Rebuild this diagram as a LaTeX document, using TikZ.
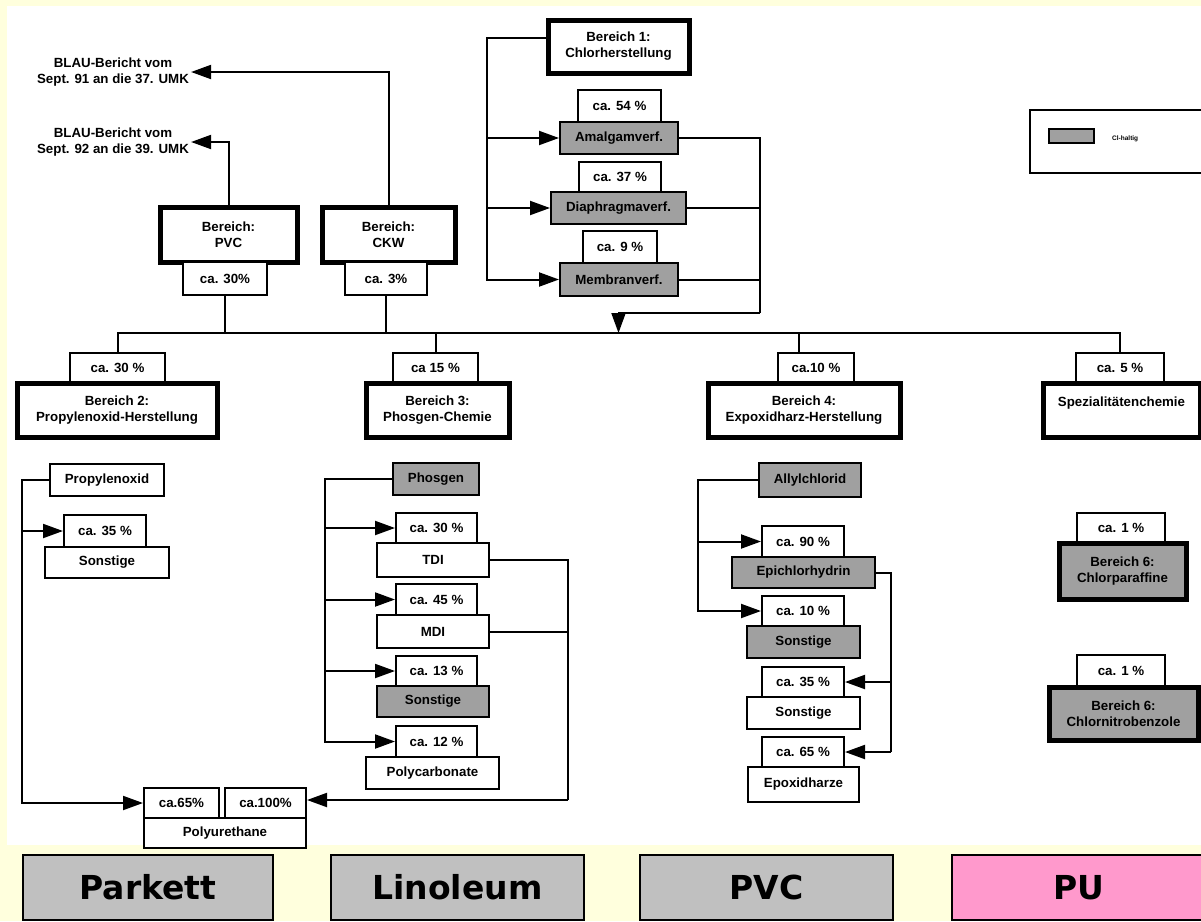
\documentclass[tikz,border=0pt]{standalone}
\usepackage{fontspec}
\setmainfont{Liberation Sans}
\newfontfamily\btnfont{DejaVu Sans}
\usetikzlibrary{arrows.meta,calc}

\definecolor{slideyellow}{RGB}{255,255,221}
\definecolor{clgrey}{RGB}{160,160,160}
\definecolor{btngrey}{RGB}{192,192,192}
\definecolor{btnpink}{RGB}{255,153,204}

\tikzset{
	conn/.style={line width=2pt},
	arr/.style={line width=2pt, -{Triangle[length=20pt,width=14pt]}},
	pbox/.style={draw, line width=2pt, fill=white, inner sep=1pt, font=\bfseries\fontsize{13.3}{16}\selectfont, align=center},
	bbox/.style={pbox, line width=5pt},
	clbox/.style={pbox, fill=clgrey},
	clbbox/.style={bbox, fill=clgrey},
	btn/.style={draw, line width=2pt, fill=btngrey, inner sep=0pt, font=\btnfont\bfseries\fontsize{33}{36}\selectfont},
	blau/.style={inner sep=2pt, align=center, font=\bfseries\fontsize{13.3}{15.5}\selectfont}
}
\def\cbox[#1](#2)(#3,#4)(#5,#6)#7{\node[#1, minimum width={#5-#3}, minimum height={#6-#4}] (#2) at ({(#3+#5)/2},{(#4+#6)/2}) {#7};}

\begin{document}
\begin{tikzpicture}[x=1pt,y=-1pt]
			%%%%% START %%%%%
			\useasboundingbox (0,0) rectangle (1201,921);
			\fill[slideyellow] (0,0) rectangle (1201,921);
			\fill[white] (7,6) rectangle (1201,845);
			
			\coordinate (barY) at (0,333);
			\coordinate (chltrunk) at (487,0);
			\coordinate (chlcol) at (760,313);
			\coordinate (proptrunk) at (22,0);
			\coordinate (phostrunk) at (325,0);
			\coordinate (tdicol) at (568,800);
			\coordinate (allyltrunk) at (698,0);
			\coordinate (epicol) at (891,0);
			
			% BLAU-Berichte
			\node[blau] (blau1) at (113,72) {BLAU-Bericht vom\\Sept. 91 an die 37. UMK};
			\node[blau] (blau2) at (113,142) {BLAU-Bericht vom\\Sept. 92 an die 39. UMK};
			
			\cbox[bbox](pvc)(160,207)(297,262){Bereich:\\PVC}
			\cbox[pbox](pvcpct)(183,262)(267,295){ca. 30\%}
			\cbox[bbox](ckw)(322,207)(455,262){Bereich:\\CKW}
			\cbox[pbox](ckwpct)(345,262)(427,295){ca. 3\%}
			
			\draw[arr] (pvc.north) |- (blau2.east);
			\draw[arr] (ckw.north) |- (blau1.east);
			\draw[conn] (pvcpct.south) -- (pvcpct.south |- barY);
			\draw[conn] (ckwpct.south) -- (ckwpct.south |- barY);
			
			% Bereich 1
			\cbox[bbox](ber1)(548,20)(689,73){Bereich 1:\\Chlorherstellung}
			\cbox[pbox](c54)(578,90)(661,122){ca. 54 \%}
			\cbox[clbox](amal)(560,122)(678,154){Amalgamverf.}
			\cbox[pbox](c37)(579,162)(661,192){ca. 37 \%}
			\cbox[clbox](diaph)(551,192)(686,224){Diaphragmaverf.}
			\cbox[pbox](c9)(583,231)(657,263){ca. 9 \%}
			\cbox[clbox](membr)(560,263)(678,296){Membranverf.}
			
			\draw[arr] ($(ber1.west)+(0,-9)$) -| (chltrunk |- membr.west) -- (membr.west);
			\draw[arr] (chltrunk |- amal.west) -- (amal.west);
			\draw[arr] (chltrunk |- diaph.west) -- (diaph.west);
			\draw[conn] (amal.east) -| (chlcol);
			\draw[conn] (diaph.east) -- (diaph.east -| chlcol);
			\draw[conn] (membr.east) -- (membr.east -| chlcol);
			\draw[arr] (chlcol) -| (ber1.south |- barY);
			
			% Legende
			\cbox[pbox, line width=2.5pt](legend)(1030,110)(1215,173){}
			\cbox[clbox](legswatch)(1049,129)(1094,143){}
			\node[anchor=west, inner sep=0pt, font=\bfseries\fontsize{6.5}{8}\selectfont] (legtext) at (1112,139) {Cl-haltig};
			
			% Bereiche 2 bis 5
			\cbox[pbox](b2pct)(70,353)(165,383){ca. 30 \%}
			\cbox[bbox](ber2)(17,383)(217,437){Bereich 2:\\Propylenoxid-Herstellung}
			\cbox[pbox](b3pct)(393,353)(478,383){ca 15 \%}
			\cbox[bbox](ber3)(366,383)(509,437){Bereich 3:\\Phosgen-Chemie}
			\cbox[pbox](b4pct)(778,353)(854,383){ca.10 \%}
			\cbox[bbox](ber4)(708,383)(900,437){Bereich 4:\\Expoxidharz-Herstellung}
			\cbox[pbox](b5pct)(1076,353)(1164,383){ca. 5 \%}
			\cbox[bbox](ber5)(1043,383)(1200,437){Spezialit\"atenchemie\\\mbox{}}
			
			\draw[conn] (b2pct.north) |- (b5pct.north |- barY) -- (b5pct.north);
			\draw[conn] (b3pct.north) -- (b3pct.north |- barY);
			\draw[conn] ($(b4pct.north)+(-17,0)$) -- ($(b4pct.north |- barY)+(-17,0)$);
			
			% Propylenoxid
			\cbox[pbox](propox)(50,464)(164,496){Propylenoxid}
			\cbox[pbox](p35)(64,515)(146,547){ca. 35 \%}
			\cbox[pbox](psonst)(45,547)(169,578){Sonstige}
			\cbox[pbox](pu65)(144,788)(219,818){ca.65\%}
			\cbox[pbox](pu100)(225,788)(306,818){ca.100\%}
			\cbox[pbox](pur)(144,818)(306,848){Polyurethane}
			
			\draw[arr] (propox.west) -| (proptrunk |- pu65.west) -- (pu65.west);
			\draw[arr] (proptrunk |- p35.west) -- (p35.west);
			
			% Phosgen
			\cbox[clbox](phos)(393,463)(479,495){Phosgen}
			\cbox[pbox](t30)(396,513)(477,543){ca. 30 \%}
			\cbox[pbox](tdi)(377,543)(489,577){TDI}
			\cbox[pbox](m45)(396,584)(477,615){ca. 45 \%}
			\cbox[pbox](mdi)(377,615)(489,648){MDI}
			\cbox[pbox](s13)(396,656)(477,686){ca. 13 \%}
			\cbox[clbox](s13n)(377,686)(489,717){Sonstige}
			\cbox[pbox](c12)(396,726)(477,757){ca. 12 \%}
			\cbox[pbox](polyc)(366,757)(499,789){Polycarbonate}
			
			\draw[arr] (phos.west) -| (phostrunk |- c12.west) -- (c12.west);
			\draw[arr] (phostrunk |- t30.west) -- (t30.west);
			\draw[arr] (phostrunk |- m45.west) -- (m45.west);
			\draw[arr] (phostrunk |- s13.west) -- (s13.west);
			\draw[conn] (tdi.east) -| (tdicol);
			\draw[conn] (mdi.east) -- (mdi.east -| tdicol);
			\draw[arr] (tdicol) -- (tdicol -| pu100.east);
			
			% Allylchlorid
			\cbox[clbox](allyl)(759,463)(861,497){Allylchlorid}
			\cbox[pbox](e90)(762,526)(844,557){ca. 90 \%}
			\cbox[clbox](epi)(732,557)(875,588){Epichlorhydrin}
			\cbox[pbox](e10)(762,596)(844,626){ca. 10 \%}
			\cbox[clbox](esonst)(747,626)(860,658){Sonstige}
			\cbox[pbox](e35)(762,667)(844,697){ca. 35 \%}
			\cbox[pbox](esonst2)(747,697)(860,729){Sonstige}
			\cbox[pbox](e65)(762,737)(844,767){ca. 65 \%}
			\cbox[pbox](epox)(748,767)(859,802){Epoxidharze}
			
			\draw[arr] (allyl.west) -| (allyltrunk |- e10.west) -- (e10.west);
			\draw[arr] (allyltrunk |- e90.west) -- (e90.west);
			\draw[conn] (epi.east) -| (epicol |- e65.east);
			\draw[arr] (epicol |- e35.east) -- (e35.east);
			\draw[arr] (epicol |- e65.east) -- (e65.east);
			
			% Bereich 6
			\cbox[pbox](k1)(1077,513)(1165,543){ca. 1 \%}
			\cbox[clbbox](chlp)(1059,543)(1186,599){Bereich 6:\\Chlorparaffine}
			\cbox[pbox](k2)(1077,655)(1165,687){ca. 1 \%}
			\cbox[clbbox](chln)(1049,687)(1198,740){Bereich 6:\\Chlornitrobenzole}
			
			% Leiste
			\cbox[btn](parkett)(23,855)(273,920){Parkett}
			\cbox[btn](linoleum)(331,855)(584,920){Linoleum}
			\cbox[btn](pvcbtn)(640,855)(893,920){PVC}
			\cbox[btn, fill=btnpink](pubtn)(952,855)(1205,920){PU}
			
			%%%%% END %%%%%
\end{tikzpicture}
\end{document}
